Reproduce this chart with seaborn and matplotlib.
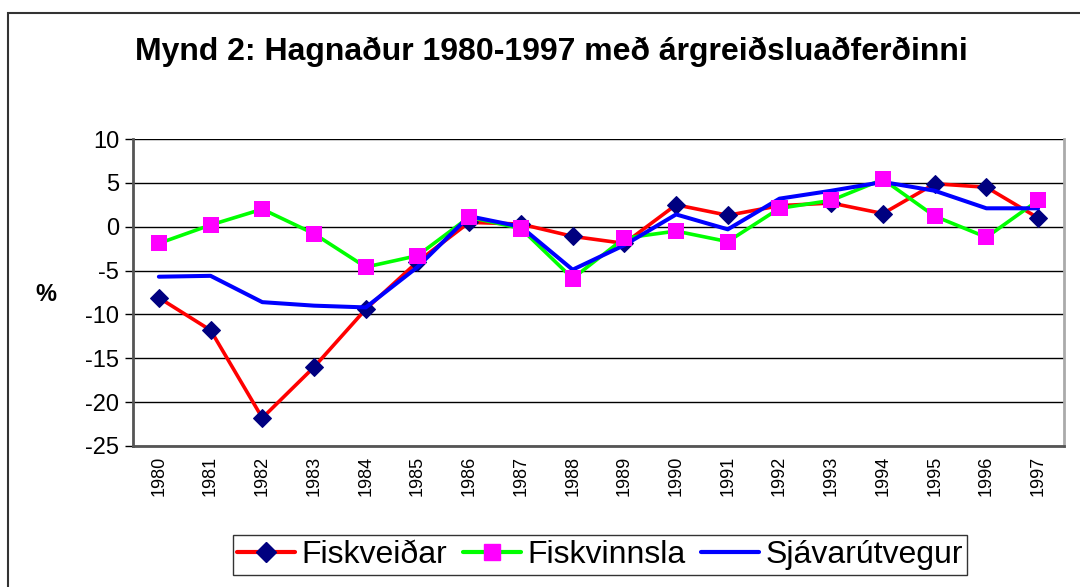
import pandas as pd
import matplotlib.pyplot as plt
import seaborn as sns
from matplotlib.lines import Line2D
from matplotlib.patches import Rectangle

years = [str(y) for y in range(1980, 1998)]

fiskveidar = [-8.1, -11.8, -21.8, -16.0, -9.4, -4.0, 0.5, 0.3, -1.1, -1.9,
              2.5, 1.3, 2.4, 2.7, 1.5, 4.9, 4.5, 1.0]
fiskvinnsla = [-1.9, 0.2, 2.0, -0.8, -4.6, -3.3, 1.1, -0.2, -5.9, -1.3,
               -0.5, -1.7, 2.1, 3.0, 5.4, 1.2, -1.2, 3.0]
sjavarutvegur = [-5.7, -5.6, -8.6, -9.0, -9.2, -4.6, 1.2, 0.0, -4.9, -2.1,
                 1.4, -0.3, 3.2, 4.1, 5.1, 4.1, 2.1, 2.1]

y_ticks = [10, 5, 0, -5, -10, -15, -20, -25]

df = pd.DataFrame({
    'idx': range(len(years)),
    'Fiskveiðar': fiskveidar,
    'Fiskvinnsla': fiskvinnsla,
    'Sjávarútvegur': sjavarutvegur,
})

sns.set_style('white')
plt.rcParams['font.family'] = ['Liberation Sans', 'DejaVu Sans']
plt.rcParams['text.color'] = 'black'
plt.rcParams['xtick.color'] = 'black'
plt.rcParams['ytick.color'] = 'black'

fig = plt.figure(figsize=(10.8, 5.87), dpi=100)
ax = fig.add_axes([133 / 1080, 1 - 446 / 587, (1064 - 133) / 1080, (446 - 139) / 587])

# outer chart border (cut off at right and bottom as in the source)
fig.patches.append(Rectangle((8 / 1080, -0.05), 1.1, 1 - 13 / 587 + 0.05,
                             transform=fig.transFigure, fill=False,
                             edgecolor='#333333', linewidth=1.5))

# horizontal gridlines
for v in y_ticks:
    ax.axhline(v, color='black', linewidth=1, zorder=1)

sns.lineplot(data=df, x='idx', y='Fiskveiðar', color='#ff0000', linewidth=2.6,
             marker='D', markersize=9.5, markerfacecolor='#000080',
             markeredgecolor='#000080', ax=ax, zorder=2)
sns.lineplot(data=df, x='idx', y='Fiskvinnsla', color='#00ff00', linewidth=2.6,
             ax=ax, zorder=3)
sns.lineplot(data=df, x='idx', y='Sjávarútvegur', color='#0000ff', linewidth=2.9,
             ax=ax, zorder=4)
sns.scatterplot(data=df, x='idx', y='Fiskvinnsla', color='#ff00ff', marker='s',
                s=135, edgecolor='none', ax=ax, zorder=5)

ax.set_xlim(-0.5, len(years) - 0.5)
ax.set_ylim(-25, 10)
ax.set_yticks(y_ticks)
ax.set_yticklabels([str(v) for v in y_ticks], fontsize=17)
ax.set_xticks(range(len(years)))
ax.set_xticklabels(years, rotation=90, fontsize=13)
ax.set_xticks([i - 0.5 for i in range(len(years) + 1)], minor=True)
ax.tick_params(axis='x', which='major', length=0, pad=7)
ax.tick_params(axis='x', which='minor', length=6, width=1, color='black')
ax.tick_params(axis='y', which='major', length=6, width=1, color='black', left=True, pad=4)
ax.set_xlabel('')
ax.set_ylabel('')

for side in ['left', 'bottom']:
    ax.spines[side].set_color('#555555')
    ax.spines[side].set_linewidth(2)
ax.spines['top'].set_visible(False)
ax.spines['right'].set_color('#aaaaaa')
ax.spines['right'].set_linewidth(2)

fig.text(46 / 1080, 1 - 295 / 587, '%', fontsize=17, fontweight='bold',
         ha='center', va='center')
fig.text(551 / 1080, 1 - 52 / 587, 'Mynd 2: Hagnaður 1980-1997 með árgreiðsluaðferðinni',
         fontsize=23, fontweight='bold', ha='center', va='center')

handles = [
    Line2D([], [], color='#ff0000', linewidth=3, marker='D', markersize=10,
           markerfacecolor='#000080', markeredgecolor='#000080'),
    Line2D([], [], color='#00ff00', linewidth=3, marker='s', markersize=11,
           markerfacecolor='#ff00ff', markeredgecolor='#ff00ff'),
    Line2D([], [], color='#0000ff', linewidth=3),
]
leg = fig.legend(handles, ['Fiskveiðar', 'Fiskvinnsla', 'Sjávarútvegur'],
                 loc='upper center', bbox_to_anchor=(600 / 1080, 1 - 535 / 587),
                 ncol=3, fontsize=23, frameon=True, fancybox=False,
                 handlelength=1.8, handletextpad=0.2, columnspacing=0.5,
                 borderpad=0.15, borderaxespad=0)
leg.get_frame().set_edgecolor('black')
leg.get_frame().set_linewidth(1)

plt.savefig('out.png', dpi=100)
